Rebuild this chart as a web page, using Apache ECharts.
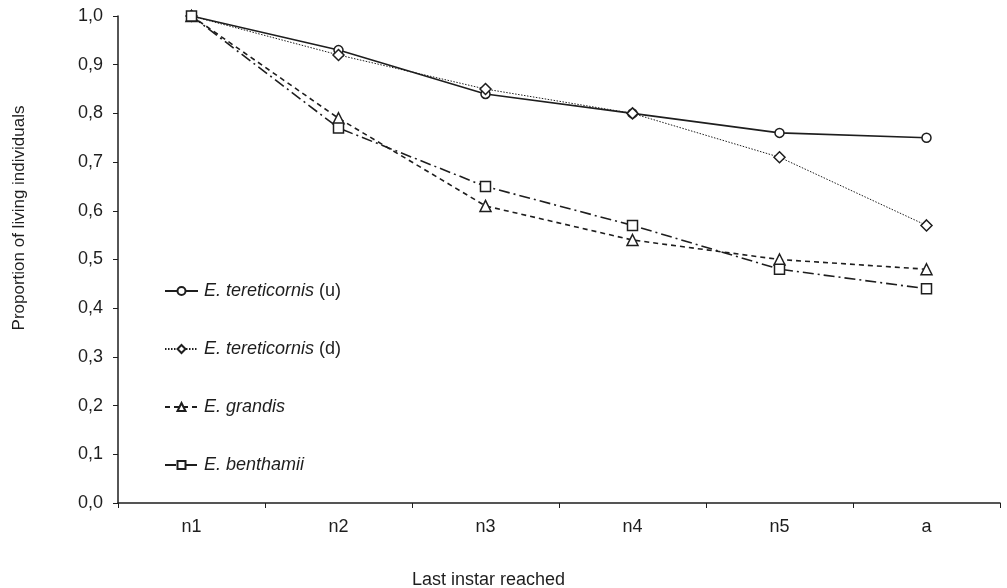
<!DOCTYPE html>
<html>
<head>
<meta charset="utf-8">
<script src="https://cdn.jsdelivr.net/npm/echarts@6/dist/echarts.min.js"></script>
<style>
html,body{margin:0;padding:0;background:#fff;}
#chart{width:1007px;height:588px;}
</style>
</head>
<body>
<div id="chart"></div>
<script>
var categories = ['n1', 'n2', 'n3', 'n4', 'n5', 'a'];
var tereticornisU = [1.0, 0.93, 0.84, 0.80, 0.76, 0.75];
var tereticornisD = [1.0, 0.92, 0.85, 0.80, 0.71, 0.57];
var grandis = [1.0, 0.79, 0.61, 0.54, 0.50, 0.48];
var benthamii = [1.0, 0.77, 0.65, 0.57, 0.48, 0.44];
var seriesNames = ['E. tereticornis (u)', 'E. tereticornis (d)', 'E. grandis', 'E. benthamii'];
var yTicks = [0, 0.1, 0.2, 0.3, 0.4, 0.5, 0.6, 0.7, 0.8, 0.9, 1.0];

var FONT = '"Liberation Sans", Arial, sans-serif';
var INK = '#1e1e1e';

var chart = echarts.init(document.getElementById('chart'), null, {renderer: 'canvas'});

function lineSeries(name, data, symbol, size, lineType, width, z) {
  return {
    name: name,
    type: 'line',
    data: data,
    symbol: symbol,
    symbolSize: size,
    showAllSymbol: true,
    z: z,
    itemStyle: {color: '#fff', borderColor: INK, borderWidth: 1.5},
    lineStyle: {color: INK, width: width, type: lineType},
    emphasis: {disabled: true},
    animation: false
  };
}

var option = {
  backgroundColor: '#fff',
  animation: false,
  grid: {left: 118, right: 7, top: 16, bottom: 85, containLabel: false},
  title: {
    text: 'Last instar reached',
    left: 412, top: 571, padding: 0,
    textStyle: {fontFamily: FONT, fontSize: 18, fontWeight: 'normal', color: INK}
  },
  graphic: [{
    type: 'text',
    x: 19, y: 218,
    rotation: Math.PI / 2,
    style: {
      text: 'Proportion of living individuals',
      font: '17px ' + FONT,
      fill: INK,
      textAlign: 'center',
      textVerticalAlign: 'middle'
    }
  }],
  legend: {
    orient: 'vertical',
    left: 159, top: 277,
    itemGap: 40,
    itemWidth: 33, itemHeight: 10,
    data: seriesNames,
    formatter: function (name) {
      var m = name.match(/^(.*?)(\s\(.\))?$/);
      if (m[2]) return '{i|' + m[1] + '}{n|' + m[2] + '}';
      return '{i|' + m[1] + '}';
    },
    textStyle: {
      fontFamily: FONT, fontSize: 18, color: INK, padding: [0, 0, 0, 1],
      rich: {
        i: {fontFamily: FONT, fontSize: 18, fontStyle: 'italic', color: INK},
        n: {fontFamily: FONT, fontSize: 18, color: INK}
      }
    }
  },
  xAxis: {
    type: 'category',
    data: categories,
    boundaryGap: true,
    axisLine: {lineStyle: {color: INK, width: 1.5}},
    axisTick: {show: true, length: 5, inside: false, alignWithLabel: false, lineStyle: {color: INK}},
    axisLabel: {fontFamily: FONT, fontSize: 18, color: INK, margin: 15},
    splitLine: {show: false}
  },
  yAxis: {
    type: 'value',
    min: 0, max: 1, interval: 0.1,
    axisLine: {show: true, lineStyle: {color: INK, width: 1.5}},
    axisTick: {show: true, length: 5, inside: false, lineStyle: {color: INK}},
    axisLabel: {
      fontFamily: FONT, fontSize: 18, color: INK, margin: 15,
      formatter: function (v) {
        var t = yTicks.reduce(function (a, b) { return Math.abs(b - v) < Math.abs(a - v) ? b : a; });
        return t.toFixed(1).replace('.', ',');
      }
    },
    splitLine: {show: false}
  },
  series: [
    lineSeries(seriesNames[0], tereticornisU, 'circle', 9, 'solid', 1.6, 3),
    lineSeries(seriesNames[1], tereticornisD, 'diamond', 11, [1.5, 1.5], 1, 4),
    lineSeries(seriesNames[2], grandis, 'triangle', 11, [5, 4], 1.6, 5),
    lineSeries(seriesNames[3], benthamii, 'rect', 10, [11, 4, 2, 4], 1.6, 6)
  ]
};
chart.setOption(option);
</script>
</body>
</html>
